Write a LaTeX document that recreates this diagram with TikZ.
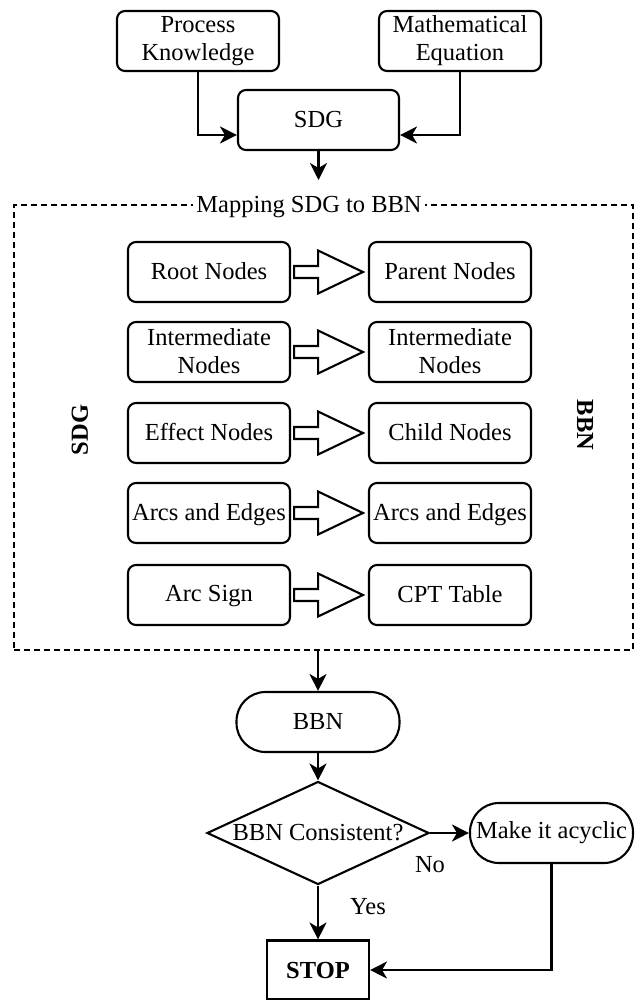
\documentclass[tikz,border=0pt]{standalone}
\usepackage{fontspec}
\setmainfont{Liberation Serif}
\usetikzlibrary{arrows.meta,shapes.geometric,calc}

\begin{document}
\begin{tikzpicture}[x=1pt,y=-1pt,line width=2.1pt,
    font=\fontsize{24.5}{28}\selectfont,
    box/.style={draw, rounded corners=8pt, align=center, minimum width=162pt, minimum height=60pt, inner sep=1pt},
    term/.style={draw, rounded corners=29pt, minimum width=163pt, minimum height=60pt, inner sep=1pt},
    conn/.style={-{Stealth[length=17pt,width=17pt,inset=5pt]}},
    blockarrow/.style={draw, fill=white, line join=miter},
    sidelabel/.style={font=\fontsize{24.5}{28}\selectfont\bfseries}]
\useasboundingbox (0,0) rectangle (634,1000);

% inputs to the SDG
\node[box] (pk) at (198,41) {Process\\Knowledge};
\node[box] (me) at (460,41) {Mathematical\\Equation};
\node[box, minimum width=161pt] (sdg) at (318.5,120) {SDG};
\draw[conn] (pk.south) |- ($(sdg.west)+(0,15)$);
\draw[conn] (me.south) |- ($(sdg.east)+(0,15)$);
\coordinate (sdgend) at (318.5,180);
\draw[conn] (sdg.south) -- (sdgend);

% mapping frame
\node[draw, dash pattern=on 6pt off 4pt, line width=1.6pt, minimum width=619pt, minimum height=445pt] (map) at (323.5,427.5) {};
\node[fill=white, inner xsep=3pt, inner ysep=0pt] (maptitle) at (309,207) {Mapping SDG to BBN};

\foreach \y/\sdgtext/\bbntext [count=\i] in {272/Root Nodes/Parent Nodes,352/{Intermediate\\Nodes}/{Intermediate\\Nodes},433/Effect Nodes/Child Nodes,513/Arcs and Edges/Arcs and Edges,595/Arc Sign/CPT Table} {
    \node[box, text depth=0.25em] (s\i) at (209,\y) {\sdgtext};
    \node[box, text depth=0.25em] (b\i) at (450,\y) {\bbntext};
    \draw[blockarrow] ($(s\i.east)+(3,-6)$) -- ++(24,0) -- ++(0,-15.5) -- ($(b\i.west)+(-5,0)$)
        -- ($(s\i.east)+(27,21.5)$) -- ++(0,-15.5) -- ++(-24,0) -- cycle;
}
\node[sidelabel, rotate=90] (sdgside) at (80,430) {SDG};
\node[sidelabel, rotate=-90] (bbnside) at (585,425) {BBN};

% consistency check
\node[term] (bbn) at (318,722) {BBN};
\draw[conn] (map.south -| bbn.north) -- (bbn.north);
\node[draw, diamond, aspect=2.15, inner sep=0pt, minimum width=222pt, minimum height=103pt] (check) at (318,833) {BBN Consistent?};
\draw[conn] (bbn) -- (check);
\node[term] (acyc) at (551.5,833) {Make it acyclic};
\draw[conn] (check.east) -- (acyc.west);
\node (no) at (430,865) {No};
\node[draw, minimum width=102pt, minimum height=59pt, inner sep=1pt, sidelabel] (stop) at (318,970) {STOP};
\draw[conn] (check.south) -- (stop.north);
\node (yes) at (368,907) {Yes};
\draw[conn] (acyc.south) |- (stop.east);
\end{tikzpicture}
\end{document}
